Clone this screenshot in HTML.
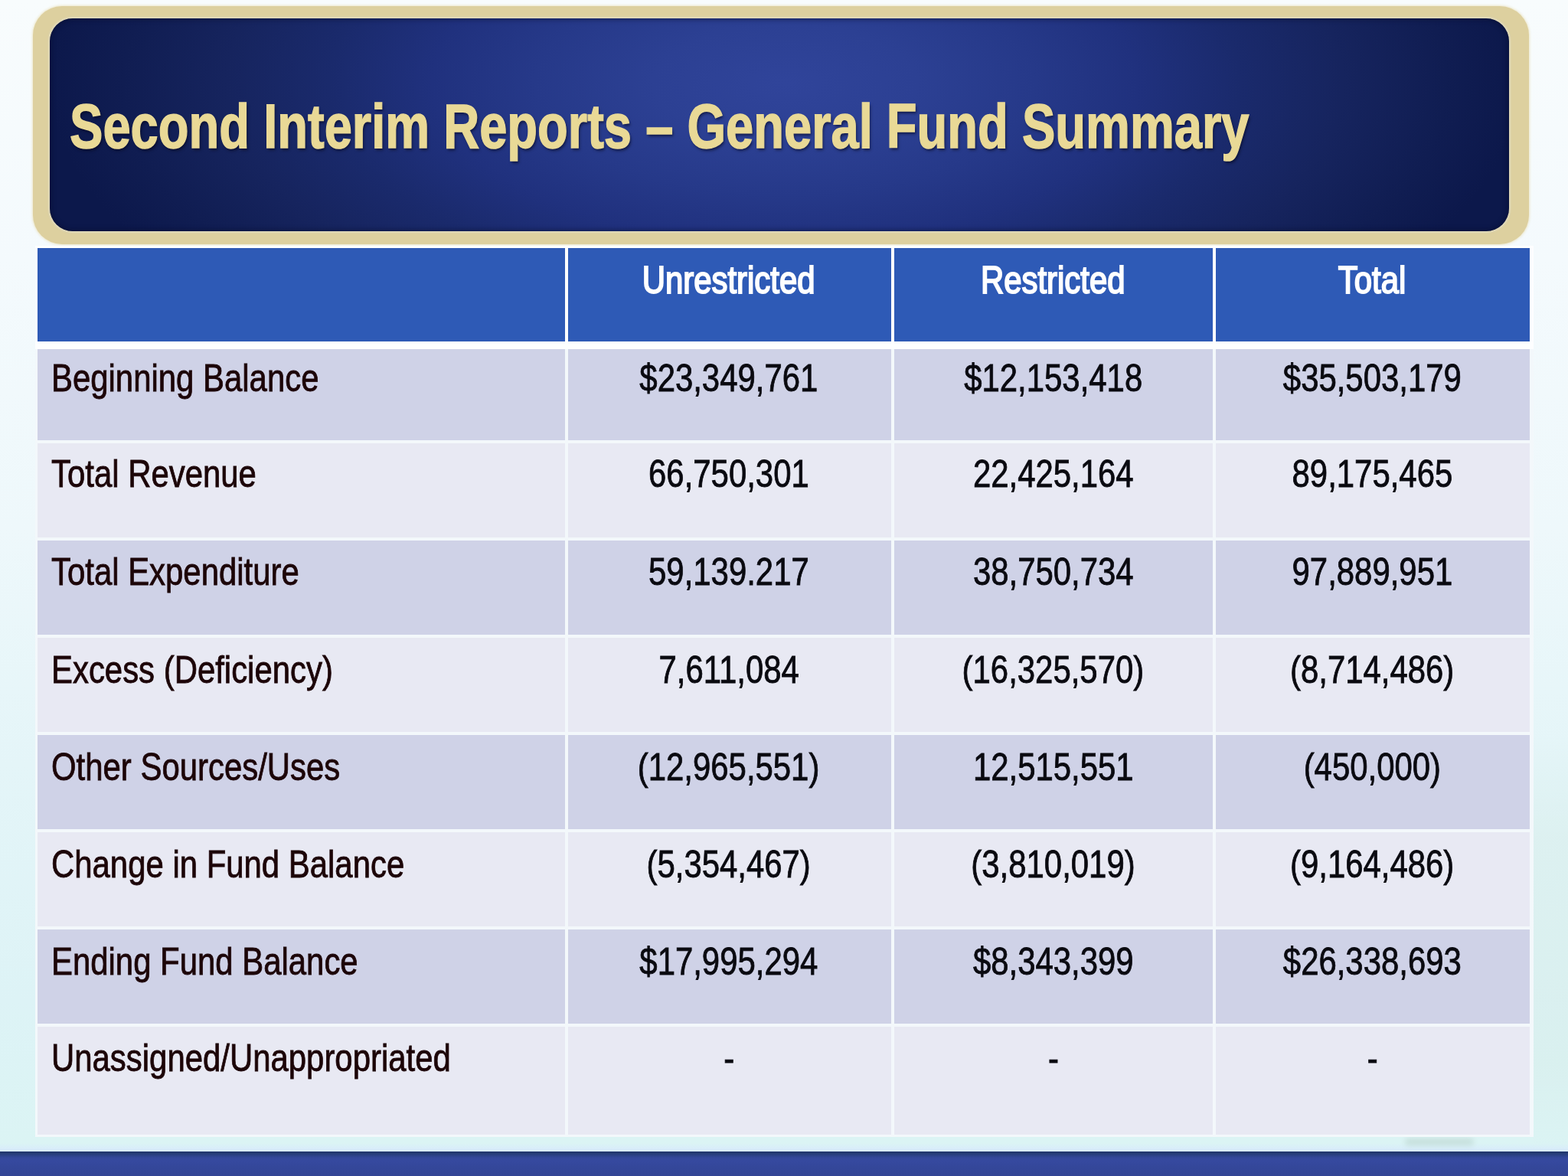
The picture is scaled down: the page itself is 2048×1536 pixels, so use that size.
<!DOCTYPE html>
<html lang="en"><head><meta charset="utf-8">
<title>Second Interim Reports – General Fund Summary</title>
<style>
html,body{margin:0;padding:0}
body{width:2048px;height:1536px;overflow:hidden;position:relative;font-family:"Liberation Sans",sans-serif;
 background:linear-gradient(180deg,#f8fcfd 0%,#f4fafd 22%,#eef8fb 45%,#e4f5f8 65%,#ddf3f6 85%,#dbf4f4 97.2%,#d8ebfb 97.8%);}
.banner{position:absolute;left:42.5px;top:8px;width:1954.5px;height:311px;border-radius:38px;background:#ddd09f;box-shadow:0 0 3px 1px rgba(236,228,196,.9)}
.banner-in{position:absolute;left:22.5px;top:16px;width:1906px;height:278px;border-radius:30px;
 background:radial-gradient(ellipse 960px 430px at 960px 85px,#30449a 0%,#2c4093 18%,#263989 34%,#20317e 48%,#1a2a6c 62%,#16245e 76%,#101d52 90%,#0c184b 100%);
 box-shadow:0 0 2px 1.5px rgba(224,218,192,.85),inset 0 0 6px 1px rgba(5,10,40,.6)}
h1{position:absolute;left:48px;top:115.51px;margin:0;padding:0;white-space:nowrap;font-size:81.5px;line-height:81.5px;font-weight:bold;
 color:#e9d996;-webkit-text-stroke:1.5px #e9d996;text-shadow:2px 3px 4px rgba(0,0,20,.55);transform-origin:0 0;transform:scaleX(.7985);filter:blur(.55px)}
table{position:absolute;left:46px;top:321px;width:1957px;table-layout:fixed;border-collapse:separate;border-spacing:0;
 font-size:50px;line-height:50px}
th,td{box-sizing:border-box;padding:0;margin:0;vertical-align:top;font-weight:normal;text-align:center;white-space:nowrap;overflow:visible;
 border-style:solid;border-color:#f3f8fb;background-clip:padding-box}
thead th{height:135px;border-top-width:3px;border-bottom-width:10px;border-color:#fdfeff;background-color:#2e5ab6;color:#fff;
 -webkit-text-stroke:2px #fff;padding-top:16.68px}
tbody tr:nth-child(odd)>*{background-color:#cfd2e7}
tbody tr:nth-child(even)>*{background-color:#e8e9f3}
tbody th{text-align:left;color:#1c0508;-webkit-text-stroke:.85px #1c0508}
tbody td{color:#0a0a10;-webkit-text-stroke:.85px #0a0a10}
.c1{border-left-width:3px;border-right-width:2px}
.c2{border-left-width:2px;border-right-width:2px}
.c3{border-left-width:2px;border-right-width:2px}
.c4{border-left-width:2px;border-right-width:5px}
th span,td span{display:inline-block;filter:blur(.55px)}
tbody th span{transform-origin:0 50%;transform:scaleX(0.838);margin-left:18.0px}
.c2 span{transform:translateX(-1.20px) scaleX(0.838)}
.c3 span{transform:translateX(-0.35px) scaleX(0.838)}
.c4 span{transform:translateX(-0.70px) scaleX(0.838)}
.wm{position:absolute;left:2003px;top:960px;width:45px;height:540px;background:linear-gradient(180deg,rgba(214,236,232,0) 0,rgba(214,236,232,.45) 25%,rgba(214,236,232,.45) 80%,rgba(214,236,232,0) 100%)}
.wm2{position:absolute;left:1835px;top:1486px;width:90px;height:11px;border-radius:6px;background:rgba(186,212,206,.55);filter:blur(3px)}
.bar{position:absolute;left:0;top:1504px;width:2048px;height:32px;background:linear-gradient(180deg,#1f3567 0,#28407f 4px,#33479a 8px,#36499f 12px,#34479a 20px,#334595 100%)}
</style></head><body>
<div class="wm"></div><div class="wm2"></div>
<header class="banner"><div class="banner-in"></div><h1>Second Interim Reports – General Fund Summary</h1></header>
<table>
<colgroup><col style="width:694px"><col style="width:426px"><col style="width:420px"><col style="width:417px"></colgroup>
<thead><tr><th class="c1"></th><th class="c2" scope="col"><span>Unrestricted</span></th><th class="c3" scope="col"><span>Restricted</span></th><th class="c4" scope="col"><span>Total</span></th></tr></thead>
<tbody>
<tr><th class="c1" scope="row" style="height:120.5px;border-top-width:0px;border-bottom-width:2px;padding-top:12.98px"><span>Beginning Balance</span></th><td class="c2" style="height:120.5px;border-top-width:0px;border-bottom-width:2px;padding-top:12.98px"><span>$23,349,761</span></td><td class="c3" style="height:120.5px;border-top-width:0px;border-bottom-width:2px;padding-top:12.98px"><span>$12,153,418</span></td><td class="c4" style="height:120.5px;border-top-width:0px;border-bottom-width:2px;padding-top:12.98px"><span>$35,503,179</span></td></tr>
<tr><th class="c1" scope="row" style="height:127.0px;border-top-width:2px;border-bottom-width:2px;padding-top:15.97px"><span>Total Revenue</span></th><td class="c2" style="height:127.0px;border-top-width:2px;border-bottom-width:2px;padding-top:15.97px"><span>66,750,301</span></td><td class="c3" style="height:127.0px;border-top-width:2px;border-bottom-width:2px;padding-top:15.97px"><span>22,425,164</span></td><td class="c4" style="height:127.0px;border-top-width:2px;border-bottom-width:2px;padding-top:15.97px"><span>89,175,465</span></td></tr>
<tr><th class="c1" scope="row" style="height:127.0px;border-top-width:2px;border-bottom-width:2px;padding-top:16.97px"><span>Total Expenditure</span></th><td class="c2" style="height:127.0px;border-top-width:2px;border-bottom-width:2px;padding-top:16.97px"><span>59,139.217</span></td><td class="c3" style="height:127.0px;border-top-width:2px;border-bottom-width:2px;padding-top:16.97px"><span>38,750,734</span></td><td class="c4" style="height:127.0px;border-top-width:2px;border-bottom-width:2px;padding-top:16.97px"><span>97,889,951</span></td></tr>
<tr><th class="c1" scope="row" style="height:127.0px;border-top-width:2px;border-bottom-width:2px;padding-top:17.97px"><span>Excess (Deficiency)</span></th><td class="c2" style="height:127.0px;border-top-width:2px;border-bottom-width:2px;padding-top:17.97px"><span>7,611,084</span></td><td class="c3" style="height:127.0px;border-top-width:2px;border-bottom-width:2px;padding-top:17.97px"><span>(16,325,570)</span></td><td class="c4" style="height:127.0px;border-top-width:2px;border-bottom-width:2px;padding-top:17.97px"><span>(8,714,486)</span></td></tr>
<tr><th class="c1" scope="row" style="height:127.0px;border-top-width:2px;border-bottom-width:2px;padding-top:17.07px"><span>Other Sources/Uses</span></th><td class="c2" style="height:127.0px;border-top-width:2px;border-bottom-width:2px;padding-top:17.07px"><span>(12,965,551)</span></td><td class="c3" style="height:127.0px;border-top-width:2px;border-bottom-width:2px;padding-top:17.07px"><span>12,515,551</span></td><td class="c4" style="height:127.0px;border-top-width:2px;border-bottom-width:2px;padding-top:17.07px"><span>(450,000)</span></td></tr>
<tr><th class="c1" scope="row" style="height:127.0px;border-top-width:2px;border-bottom-width:2px;padding-top:17.97px"><span>Change in Fund Balance</span></th><td class="c2" style="height:127.0px;border-top-width:2px;border-bottom-width:2px;padding-top:17.97px"><span>(5,354,467)</span></td><td class="c3" style="height:127.0px;border-top-width:2px;border-bottom-width:2px;padding-top:17.97px"><span>(3,810,019)</span></td><td class="c4" style="height:127.0px;border-top-width:2px;border-bottom-width:2px;padding-top:17.97px"><span>(9,164,486)</span></td></tr>
<tr><th class="c1" scope="row" style="height:127.0px;border-top-width:2px;border-bottom-width:2px;padding-top:17.97px"><span>Ending Fund Balance</span></th><td class="c2" style="height:127.0px;border-top-width:2px;border-bottom-width:2px;padding-top:17.97px"><span>$17,995,294</span></td><td class="c3" style="height:127.0px;border-top-width:2px;border-bottom-width:2px;padding-top:17.97px"><span>$8,343,399</span></td><td class="c4" style="height:127.0px;border-top-width:2px;border-bottom-width:2px;padding-top:17.97px"><span>$26,338,693</span></td></tr>
<tr><th class="c1" scope="row" style="height:146.0px;border-top-width:2px;border-bottom-width:3px;padding-top:16.17px"><span>Unassigned/Unappropriated</span></th><td class="c2" style="height:146.0px;border-top-width:2px;border-bottom-width:3px;padding-top:16.17px"><span>-</span></td><td class="c3" style="height:146.0px;border-top-width:2px;border-bottom-width:3px;padding-top:16.17px"><span>-</span></td><td class="c4" style="height:146.0px;border-top-width:2px;border-bottom-width:3px;padding-top:16.17px"><span>-</span></td></tr>
</tbody></table>
<div class="bar"></div>
</body></html>
